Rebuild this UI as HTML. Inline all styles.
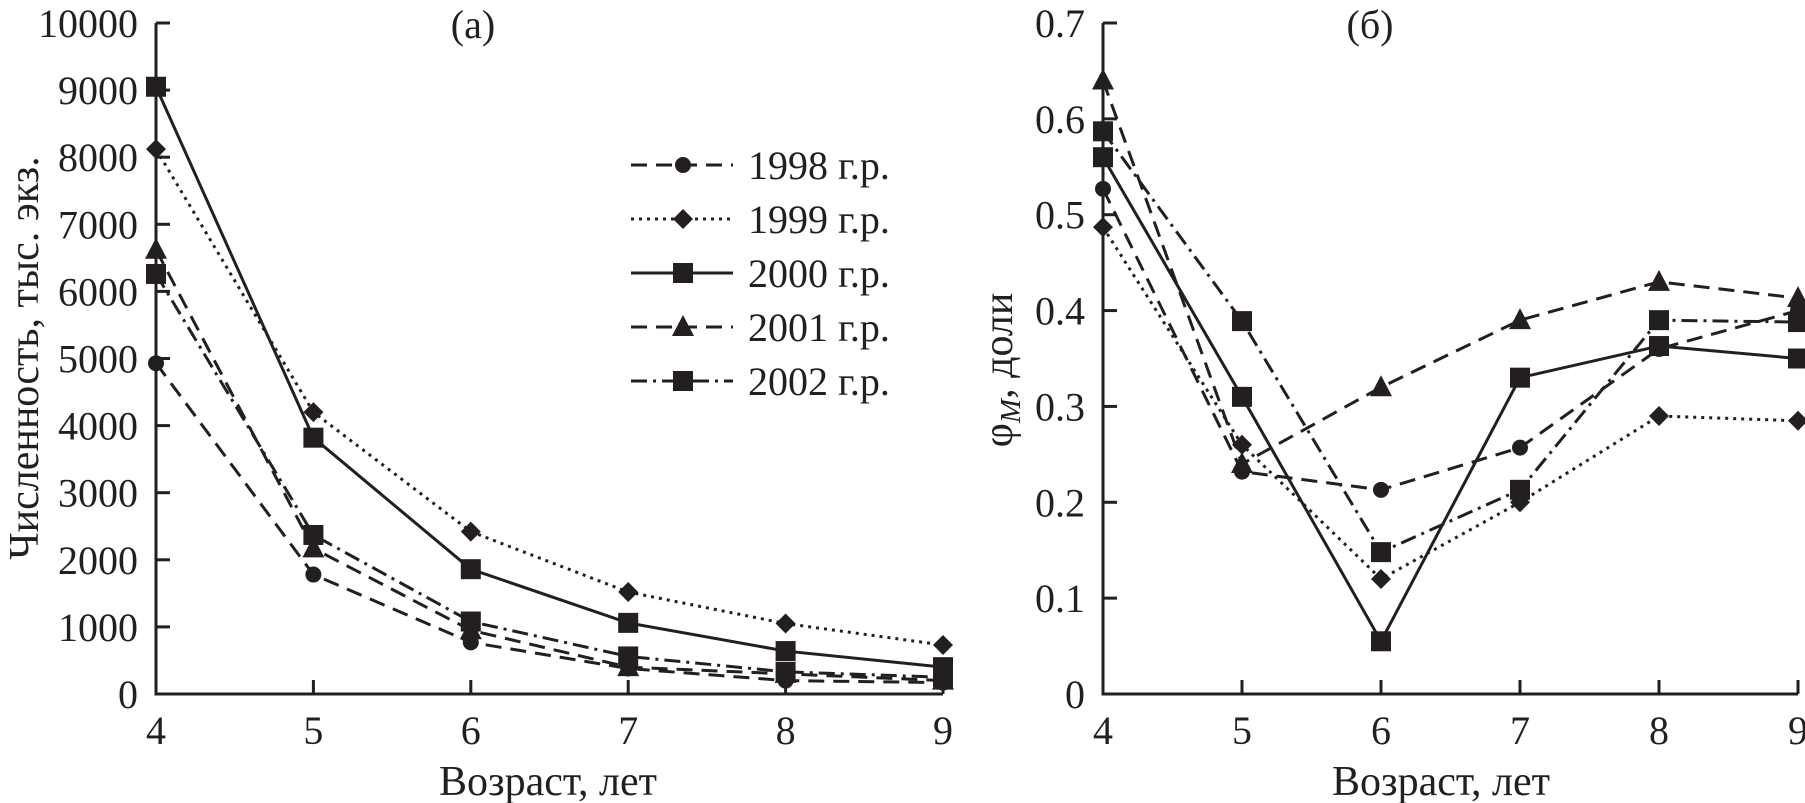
<!DOCTYPE html>
<html>
<head>
<meta charset="utf-8">
<style>
html,body{margin:0;padding:0;background:#fff;}
svg{display:block;}
text{font-family:"Liberation Serif","DejaVu Serif",serif;fill:#231f20;}
</style>
</head>
<body>
<svg id="fig" width="1805" height="803" viewBox="0 0 1805 803" xmlns="http://www.w3.org/2000/svg"></svg>
<script>
const ages = [4, 5, 6, 7, 8, 9];
const seriesNames = ["1998 г.р.", "1999 г.р.", "2000 г.р.", "2001 г.р.", "2002 г.р."];
const abundance1998 = [4930, 1780, 770, 380, 200, 170];
const abundance1999 = [8120, 4200, 2420, 1520, 1050, 730];
const abundance2000 = [9050, 3820, 1860, 1060, 640, 400];
const abundance2001 = [6620, 2170, 950, 400, 300, 200];
const abundance2002 = [6260, 2370, 1080, 560, 330, 250];
const phi1998 = [0.527, 0.232, 0.213, 0.257, 0.36, 0.40];
const phi1999 = [0.487, 0.26, 0.12, 0.20, 0.29, 0.285];
const phi2000 = [0.56, 0.31, 0.055, 0.33, 0.363, 0.35];
const phi2001 = [0.64, 0.24, 0.32, 0.39, 0.43, 0.413];
const phi2002 = [0.587, 0.389, 0.148, 0.213, 0.39, 0.388];
const leftTicks = [0, 1000, 2000, 3000, 4000, 5000, 6000, 7000, 8000, 9000, 10000];
const rightTicks = [0, 0.1, 0.2, 0.3, 0.4, 0.5, 0.6, 0.7];

const NS = "http://www.w3.org/2000/svg";
const svg = document.getElementById("fig");
function mk(tag, attrs, parent) {
  const e = document.createElementNS(NS, tag);
  for (const k in attrs) e.setAttribute(k, attrs[k]);
  (parent || svg).appendChild(e);
  return e;
}
const styles = [
  {dash: "16 9", marker: "circle"},
  {dash: "3 5", marker: "diamond"},
  {dash: "", marker: "square"},
  {dash: "16 9", marker: "triangle"},
  {dash: "16 6 3 6", marker: "square"}
];
function marker(kind, x, y, g) {
  let m;
  if (kind === "circle") m = mk("circle", {cx: x, cy: y, r: 8, fill: "#231f20"}, g);
  else if (kind === "square") m = mk("rect", {x: x - 10, y: y - 10, width: 20, height: 20, fill: "#231f20"}, g);
  else if (kind === "diamond") m = mk("polygon", {points: `${x},${y-10} ${x+10},${y} ${x},${y+10} ${x-10},${y}`, fill: "#231f20"}, g);
  else m = mk("polygon", {points: `${x},${y-12} ${x+11},${y+9} ${x-11},${y+9}`, fill: "#231f20"}, g);
  return m;
}

function panel(cfg) {
  const g = mk("g", {});
  
  
  const xs = a => cfg.x0 + (a - ages[0]) * cfg.xStep;
  const ys = v => cfg.y0 - (v / cfg.yMax) * (cfg.y0 - cfg.yTop);
  const ax = mk("path", {d: `M${cfg.x0},${cfg.yTop} V${cfg.y0} H${xs(ages[ages.length-1])}`, stroke: "#231f20", "stroke-width": 3, fill: "none"}, g);
  
  
  cfg.ticks.forEach(t => {
    const y = ys(t);
    const tk = mk("line", {x1: cfg.x0, x2: cfg.x0 + 14, y1: y, y2: y, stroke: "#231f20", "stroke-width": 3}, g);
    
    
    const lb = mk("text", {x: cfg.x0 - 18, y: y + 14, "font-size": 40, "text-anchor": "end"}, g);
    lb.textContent = cfg.fmt(t);
    
    
  });
  ages.forEach(a => {
    const x = xs(a);
    const tk = mk("line", {x1: x, x2: x, y1: cfg.y0, y2: cfg.y0 - 14, stroke: "#231f20", "stroke-width": 3}, g);
    
    
    const lb = mk("text", {x: x, y: cfg.y0 + 50, "font-size": 40, "text-anchor": "middle"}, g);
    lb.textContent = a;
    
    
  });
  cfg.series.forEach((vals, i) => {
    const sg = mk("g", {}, g);
    
    
    const pts = vals.map((v, j) => xs(ages[j]) + "," + ys(v)).join(" ");
    const pl = mk("polyline", {points: pts, fill: "none", stroke: "#231f20", "stroke-width": 3, "stroke-dasharray": styles[i].dash}, sg);
    
    
    vals.forEach((v, j) => {
      const m = marker(styles[i].marker, xs(ages[j]), ys(v), sg);
      
      
    });
  });
  const t = mk("text", {x: cfg.titleX, y: 38, "font-size": 40, "text-anchor": "middle"}, g);
  t.textContent = cfg.title;
  
  
  const xt = mk("text", {x: cfg.xTitleX, y: 795, "font-size": 42, "text-anchor": "middle"}, g);
  xt.textContent = "Возраст, лет";
  
  
  return g;
}

panel({name: "panel-a", x0: 156, xStep: 157.4, y0: 694, yTop: 23, yMax: 10000, ticks: leftTicks,
  fmt: t => String(t), series: [abundance1998, abundance1999, abundance2000, abundance2001, abundance2002],
  title: "(а)", titleX: 473, xTitleX: 548});
panel({name: "panel-b", x0: 1103, xStep: 139, y0: 694, yTop: 23, yMax: 0.7, ticks: rightTicks,
  fmt: t => t === 0 ? "0" : t.toFixed(1), series: [phi1998, phi1999, phi2000, phi2001, phi2002],
  title: "(б)", titleX: 1370, xTitleX: 1441});

const yt1 = mk("text", {x: 0, y: 0, "font-size": 42, "text-anchor": "middle", transform: "translate(38,358) rotate(-90)"});
yt1.textContent = "Численность, тыс. экз.";


const yt2 = mk("text", {x: 0, y: 0, "font-size": 42, "text-anchor": "middle", transform: "translate(1012,370) rotate(-90)"});


const ts1 = mk("tspan", {}, yt2); ts1.textContent = "φ";
const ts2 = mk("tspan", {"font-style": "italic", "font-size": 29, dy: 8}, yt2); ts2.textContent = "M";
const ts3 = mk("tspan", {dy: -8}, yt2); ts3.textContent = ", доли";

const lg = mk("g", {});


seriesNames.forEach((n, i) => {
  const y = 165 + i * 54;
  const e = mk("g", {}, lg);
  
  
  mk("line", {x1: 631, x2: 733, y1: y, y2: y, stroke: "#231f20", "stroke-width": 3, "stroke-dasharray": styles[i].dash}, e);
  marker(styles[i].marker, 683, y, e);
  const t = mk("text", {x: 748, y: y + 14, "font-size": 40}, e);
  t.textContent = n;
});
</script>
</body>
</html>
